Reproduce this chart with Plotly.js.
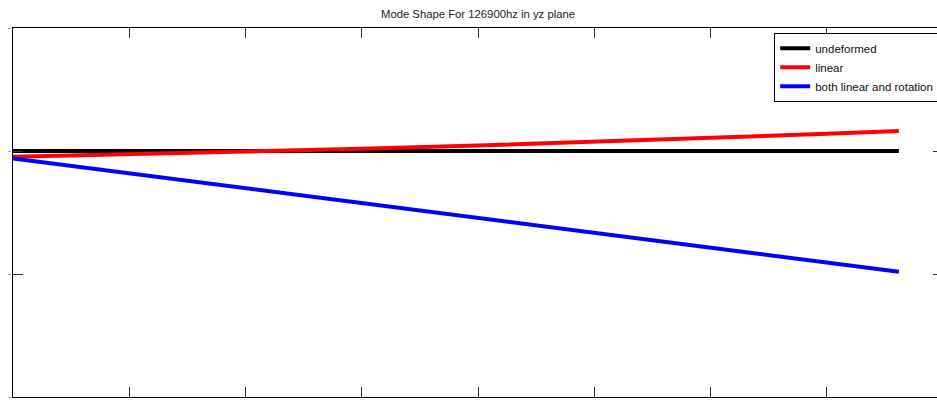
<!DOCTYPE html>
<html>
<head>
<meta charset="utf-8">
<script src="https://cdn.plot.ly/plotly-3.0.1.min.js"></script>
<style>
html,body{margin:0;padding:0;overflow:hidden;background:#fff;width:937px;height:409px;}
#chart{width:950px;height:409px;}
</style>
</head>
<body>
<div id="chart"></div>
<script>
// Data
var xNodes = [0, 1, 2, 3, 4, 5, 6, 7, 7.62];
var undeformed = [0, 0, 0, 0, 0, 0, 0, 0, 0];
var linearShape = [-0.047, -0.028, -0.007, 0.018, 0.045, 0.075, 0.105, 0.14, 0.163];
var bothShape = [-0.06, -0.181, -0.302, -0.423, -0.544, -0.665, -0.786, -0.907, -0.982];
var seriesNames = ['undeformed', 'linear', 'both linear and rotation'];
var seriesColors = ['#000000', '#ff0000', '#0000ff'];
var xTickVals = [0, 1, 2, 3, 4, 5, 6, 7, 8];
var yTickVals = [-2, -1, 0, 1];
var yTickText = ['-', '-', '-', '-'];

var ys = [undeformed, linearShape, bothShape];
var traces = ys.map(function (y, i) {
  return {
    x: xNodes, y: y, type: 'scatter', mode: 'lines',
    name: seriesNames[i],
    line: {color: seriesColors[i], width: 4}
  };
});

var layout = {
  width: 950, height: 409,
  margin: {l: 13, r: 7, t: 28, b: 12, pad: 0},
  paper_bgcolor: '#fff', plot_bgcolor: '#fff',
  font: {family: 'Liberation Sans, Arial, sans-serif', size: 11, color: '#000'},
  title: {
    text: 'Mode Shape For 126900hz in yz plane',
    font: {size: 11.3, color: '#222'},
    x: 0.5, xref: 'paper', xanchor: 'center',
    y: 1 - 14 / 409, yref: 'container', yanchor: 'middle'
  },
  showlegend: true,
  legend: {
    x: 0.8185, y: 0.987, xanchor: 'left', yanchor: 'top',
    bgcolor: '#fff', bordercolor: '#000', borderwidth: 1,
    font: {size: 11.5, color: '#111'}, tracegroupgap: 0
  },
  xaxis: {
    range: [0, 8], tickvals: xTickVals, showticklabels: false,
    ticks: 'inside', ticklen: 10, tickcolor: '#333', tickwidth: 1,
    showline: true, linecolor: '#000', linewidth: 1, mirror: 'ticks',
    showgrid: false, zeroline: false, automargin: false, fixedrange: true
  },
  yaxis: {
    range: [-2, 1], tickvals: yTickVals, ticktext: yTickText,
    tickfont: {size: 7, color: '#000'},
    ticks: 'inside', ticklen: 10, tickcolor: '#333', tickwidth: 1,
    showline: true, linecolor: '#000', linewidth: 1, mirror: 'ticks',
    showgrid: false, zeroline: false, automargin: false, fixedrange: true
  }
};

Plotly.newPlot('chart', traces, layout, {displayModeBar: false, staticPlot: true});
</script>
</body>
</html>
